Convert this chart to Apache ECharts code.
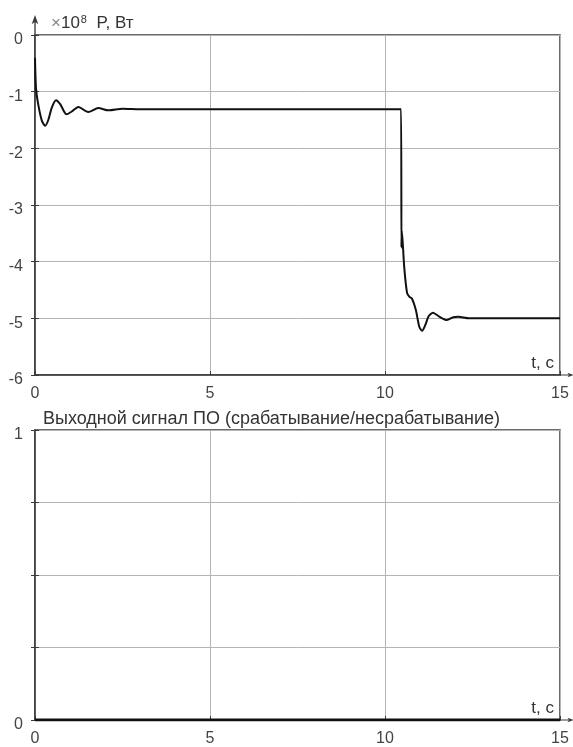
<!DOCTYPE html>
<html>
<head>
<meta charset="utf-8">
<script src="https://cdn.jsdelivr.net/npm/echarts@6/dist/echarts.min.js"></script>
<style>
    html, body { margin: 0; padding: 0; background: #fff; }
    #chart { width: 573px; height: 747px; }
</style>
</head>
<body>
<div id="chart"></div>
<script>
    // время, с
    var xTicks = [0, 5, 10, 15]
    // P, x10^8 Вт
    var powerT = [0, 0.03, 0.1, 0.2, 0.29, 0.38, 0.48, 0.6, 0.72, 0.9, 1.05, 1.24, 1.52, 1.81, 2.1, 2.5, 3,
        10.46, 10.47, 10.48, 10.55, 10.63, 10.7, 10.77, 10.88, 10.98, 11.06, 11.15, 11.25, 11.37, 11.55,
        11.77, 11.95, 12.09, 12.4, 15]
    var powerP = [-0.4, -0.95, -1.25, -1.52, -1.6, -1.5, -1.28, -1.15, -1.22, -1.4, -1.35, -1.27, -1.36, -1.29, -1.33, -1.3, -1.31,
        -1.31, -3.75, -3.45, -4.1, -4.55, -4.62, -4.65, -4.85, -5.15, -5.22, -5.12, -4.96, -4.9, -4.97,
        -5.03, -4.98, -4.97, -5.0, -5.0]
    // выходной сигнал ПО
    var signalT = [0, 15]
    var signalV = [0, 0]

    var axisColor = '#3a3a3a'
    var gridColor = '#b4b4b4'
    var textColor = '#444'
    var font = 'Liberation Sans'
    // стрелка со стержнем на конце оси (остриё вверх, ECharts сам поворачивает)
    var arrow = 'path://M5,0 L10,14 L6,11 L6,30 L4,30 L4,11 L0,14 Z'

    function pairs(xs, ys) {
        return xs.map(function (x, i) { return [x, ys[i]] })
    }

    function xAxisCfg(gridIndex) {
        return {
            type: 'value',
            gridIndex: gridIndex,
            min: 0,
            max: 15,
            interval: 5,
            name: 't, c',
            nameLocation: 'end',
            nameGap: -6,
            nameTextStyle: {
                color: '#333', fontFamily: font, fontSize: 17,
                align: 'right', verticalAlign: 'bottom', padding: [0, 0, 3, 0]
            },
            axisLine: {
                onZero: false,
                lineStyle: { color: axisColor, width: 1.5 },
                symbol: ['none', arrow],
                symbolSize: [7, 14],
                symbolOffset: [0, 7]
            },
            axisTick: { show: true, inside: true, length: 4, lineStyle: { color: axisColor } },
            axisLabel: { color: textColor, fontFamily: font, fontSize: 16, margin: 11 },
            splitLine: { show: true, lineStyle: { color: gridColor, width: 1 } }
        }
    }

    function yLabel(extra) {
        var l = { color: textColor, fontFamily: font, fontSize: 16, margin: 12, verticalAlign: 'top', lineHeight: 10 }
        if (extra) l.formatter = extra
        return l
    }

    var option = {
        animation: false,
        backgroundColor: '#fff',
        title: {
            text: 'Выходной сигнал ПО (срабатывание/несрабатывание)',
            left: 38,
            top: 405,
            textStyle: { color: '#333', fontFamily: font, fontSize: 18, fontWeight: 'normal' }
        },
        grid: [
            { left: 35, top: 35, width: 525, height: 340, show: true, borderColor: axisColor, borderWidth: 1.5 },
            { left: 35, top: 430, width: 525, height: 290, show: true, borderColor: axisColor, borderWidth: 1.5 }
        ],
        xAxis: [xAxisCfg(0), xAxisCfg(1)],
        yAxis: [
            {
                type: 'value',
                gridIndex: 0,
                min: -6,
                max: 0,
                interval: 1,
                name: '{x|×}10{s|8}  P, Вт',
                nameLocation: 'end',
                nameGap: 2,
                nameTextStyle: {
                    align: 'left', padding: [0, 0, 0, 16],
                    color: '#333', fontFamily: font, fontSize: 17,
                    rich: {
                        x: { color: '#888', fontFamily: font, fontSize: 17 },
                        s: { color: '#333', fontFamily: font, fontSize: 11, verticalAlign: 'top', padding: [0, 0, 8, 1] }
                    }
                },
                axisLine: {
                    show: true,
                    onZero: false,
                    lineStyle: { color: axisColor, width: 1.5 },
                    symbol: ['none', arrow],
                    symbolSize: [7, 20],
                    symbolOffset: [0, 10]
                },
                axisTick: { show: true, inside: true, length: 4, lineStyle: { color: axisColor } },
                axisLabel: yLabel(),
                splitLine: { show: true, lineStyle: { color: gridColor, width: 1 } }
            },
            {
                type: 'value',
                gridIndex: 1,
                min: 0,
                max: 1,
                interval: 0.25,
                axisLine: { show: true, onZero: false, lineStyle: { color: axisColor, width: 1.5 } },
                axisTick: { show: true, inside: true, length: 4, lineStyle: { color: axisColor } },
                axisLabel: yLabel(function (v) { return (v === 0 || v === 1) ? String(v) : '' }),
                splitLine: { show: true, lineStyle: { color: gridColor, width: 1 } }
            },
            {
                type: 'value', gridIndex: 0, position: 'right', min: -6, max: 0, interval: 1,
                axisLine: { show: false }, axisLabel: { show: false }, splitLine: { show: false },
                axisTick: { show: true, inside: true, length: 4, lineStyle: { color: axisColor } }
            },
            {
                type: 'value', gridIndex: 1, position: 'right', min: 0, max: 1, interval: 0.25,
                axisLine: { show: false }, axisLabel: { show: false }, splitLine: { show: false },
                axisTick: { show: true, inside: true, length: 4, lineStyle: { color: axisColor } }
            }
        ],
        series: [
            {
                type: 'line',
                xAxisIndex: 0,
                yAxisIndex: 0,
                data: pairs(powerT, powerP),
                showSymbol: false,
                smooth: 0.25,
                lineStyle: { color: '#111', width: 2 }
            },
            {
                type: 'line',
                xAxisIndex: 1,
                yAxisIndex: 1,
                data: pairs(signalT, signalV),
                showSymbol: false,
                lineStyle: { color: '#111', width: 3 }
            }
        ]
    }

    var myChart = echarts.init(document.getElementById('chart'))
    myChart.setOption(option)
</script>
</body>
</html>
